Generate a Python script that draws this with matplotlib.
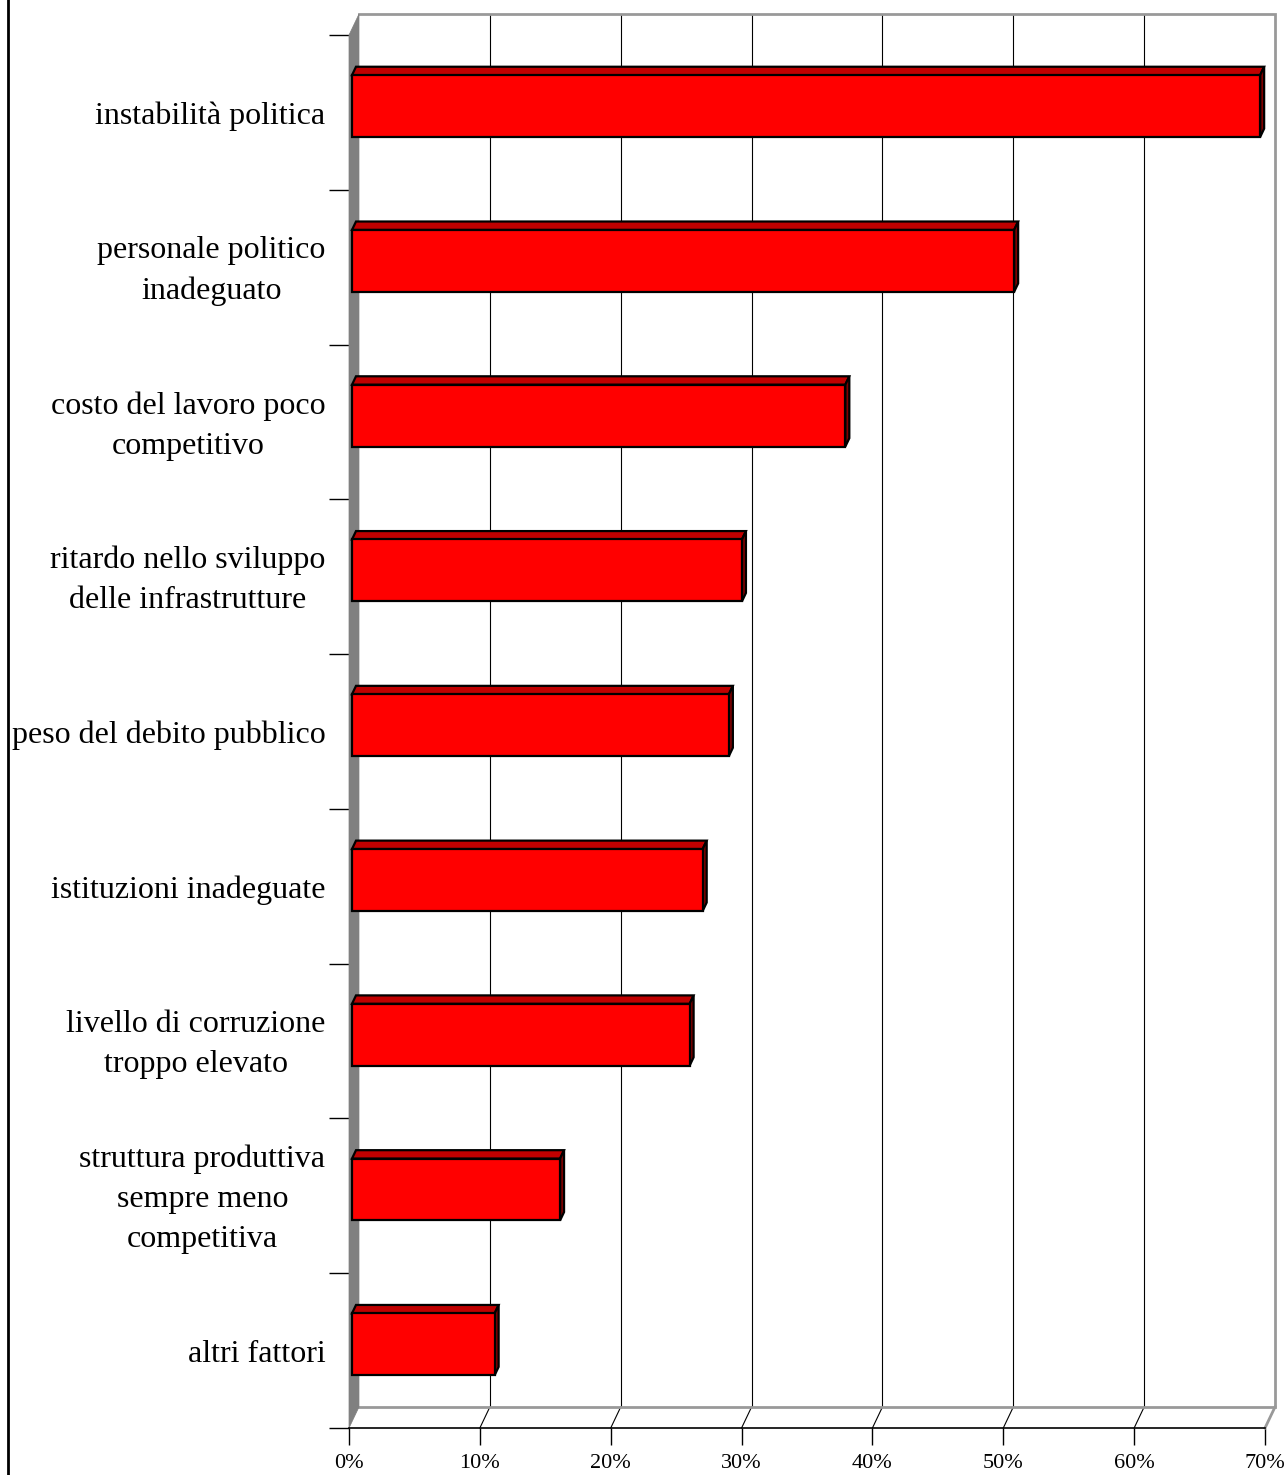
import matplotlib.pyplot as plt
from matplotlib.patches import Polygon

# data
categories = ["instabilità politica", "personale politico\ninadeguato",
              "costo del lavoro poco\ncompetitivo", "ritardo nello sviluppo\ndelle infrastrutture",
              "peso del debito pubblico", "istituzioni inadeguate",
              "livello di corruzione\ntroppo elevato", "struttura produttiva\nsempre meno\ncompetitiva",
              "altri fattori"]
values = [69.4, 50.6, 37.7, 29.8, 28.8, 26.8, 25.8, 15.9, 10.9]
xticks = [0, 10, 20, 30, 40, 50, 60, 70]
xlabels = ["0%", "10%", "20%", "30%", "40%", "50%", "60%", "70%"]

n = len(categories)
DX = 0.764   # depth offset in x (percent units)
DY = 0.1357  # depth offset in y (category units)
f0, f1 = 0.3, 0.7  # bar front/back depth fractions
bh = 0.40

fig = plt.figure(figsize=(12.88, 14.75), dpi=100)
ax = fig.add_axes([349 / 1288, 47 / 1475, 926 / 1288, 1414 / 1475])
ax.set_xlim(0, 70 + DX)
ax.set_ylim(0, n + DY)

gray = "#999999"
# back wall grid
for t in xticks[1:-1]:
    ax.plot([t + DX, t + DX], [DY, n + DY], color="black", lw=0.8, zorder=1)
    ax.plot([t, t + DX], [0, DY], color="black", lw=0.8, zorder=1, clip_on=False)
# back wall frame
ax.plot([DX, 70 + DX, 70 + DX, DX], [n + DY, n + DY, DY, DY], color=gray, lw=2, zorder=2,
        clip_on=False, solid_joinstyle="miter")
ax.plot([70, 70 + DX], [0, DY], color=gray, lw=2, zorder=2, clip_on=False)
# left wall
ax.add_patch(Polygon([(0, 0), (DX, DY), (DX, n + DY), (0, n)], closed=True,
                     facecolor="#808080", edgecolor="#808080", lw=0.5, zorder=2, clip_on=False))

# bars
for i, v in enumerate(values):
    yc = n - i - 0.5
    x0 = f0 * DX
    y0 = yc - bh / 2 + f0 * DY
    ddx = (f1 - f0) * DX
    ddy = (f1 - f0) * DY
    ax.barh(y0 + bh / 2, v, height=bh, left=x0, color="#FF0000", edgecolor="black",
            linewidth=1.6, zorder=5)
    ax.add_patch(Polygon([(x0, y0 + bh), (x0 + ddx, y0 + bh + ddy), (x0 + v + ddx, y0 + bh + ddy),
                          (x0 + v, y0 + bh)], closed=True, facecolor="#C00000",
                         edgecolor="black", lw=1.6, zorder=4, joinstyle="miter"))
    ax.add_patch(Polygon([(x0 + v, y0), (x0 + v + ddx, y0 + ddy), (x0 + v + ddx, y0 + bh + ddy),
                          (x0 + v, y0 + bh)], closed=True, facecolor="#800000",
                         edgecolor="black", lw=1.6, zorder=4, joinstyle="miter"))

for s in ["top", "right", "left"]:
    ax.spines[s].set_visible(False)
ax.spines["bottom"].set_bounds(0, 70)
ax.spines["bottom"].set_linewidth(1.2)
ax.spines["bottom"].set_zorder(6)

ax.set_xticks(xticks)
ax.set_xticklabels(xlabels, fontsize=16, family="Liberation Serif")
ax.tick_params(axis="x", length=12, width=1, pad=7, direction="out")

ax.set_yticks(range(n + 1))
ax.set_yticklabels([])
ax.tick_params(axis="y", which="major", length=14.5, width=1, direction="out")
# multi-line labels sit a little higher in the original
label_pos = [n - i - 0.5 + (0.033 if "\n" in c else 0) for i, c in enumerate(categories)]
ax.set_yticks(label_pos, minor=True)
ax.set_yticklabels(categories, minor=True, fontsize=23, family="Liberation Serif")
ax.tick_params(axis="y", which="minor", length=0, pad=17)
for lab in ax.get_yticklabels(minor=True):
    lab.set_multialignment("center")
    lab.set_linespacing(1.5)

# figure border on the left
fig.add_artist(plt.Line2D([8 / 1288, 8 / 1288], [0, 1], color="black", lw=2, transform=fig.transFigure))

fig.savefig("out.png", dpi=100)
